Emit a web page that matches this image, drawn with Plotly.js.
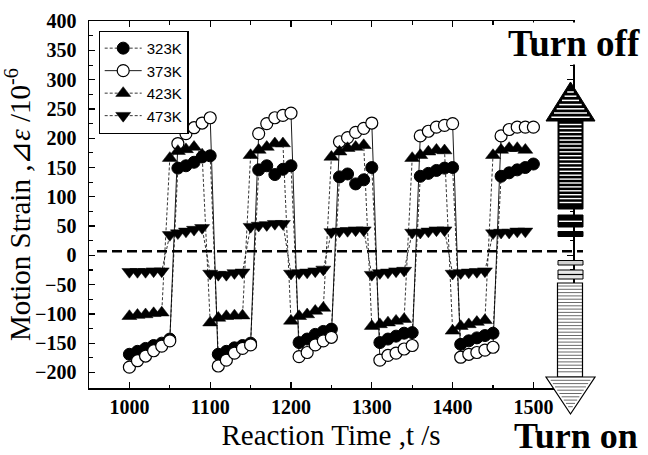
<!DOCTYPE html>
<html>
<head>
<meta charset="utf-8">
<script src="https://cdn.plot.ly/plotly-3.0.1.min.js"></script>
<style>
  html, body { margin: 0; padding: 0; background: #ffffff; }
  #chart { width: 648px; height: 455px; }
</style>
</head>
<body>
<div id="chart"></div>
<script>
// ---------------- data ----------------
const seriesNames = ["323K", "373K", "423K", "473K"];

const timeA = [1000,1010,1020,1030,1040,1050,1060,1070,1080,1090,1100,
  1110,1120,1130,1140,1150,1160,1170,1180,1190,1200,
  1210,1220,1230,1240,1250,1260,1270,1280,1290,1300,
  1310,1320,1330,1340,1350,1360,1370,1380,1390,1400,
  1410,1420,1430,1440,1450,1460,1470,1480,1490,1500];

const timeB = [1000,1010,1020,1030,1040,1050,1060,1070,1080,1090,
  1100,1110,1120,1130,1140,1150,1160,1170,1180,1190,
  1200,1210,1220,1230,1240,1250,1260,1270,1280,1290,
  1300,1310,1320,1330,1340,1350,1360,1370,1380,1390,
  1400,1410,1420,1430,1440,1450,1460,1470,1480,1490];

const strain323 = [-169,-164,-159,-154,-150,-143, 149,153,159,168,170,
  -169,-164,-158,-154,-150, 146,153,138,147,153,
  -149,-143,-135,-130,-126, 134,139,122,129,150,
  -149,-143,-138,-133,-132, 135,140,145,149,150,
  -152,-146,-141,-137,-133, 135,141,146,150,156];

const strain373 = [-191,-180,-172,-163,-155,-146, 191,208,218,226,235,
  -189,-179,-167,-159,-153, 208,225,235,239,243,
  -173,-166,-153,-146,-140, 194,201,210,217,226,
  -179,-171,-167,-160,-154, 204,212,219,222,225,
  -174,-169,-166,-162,-157, 204,215,219,219,219];

const strain423 = [-104,-102,-101,-99,-98, 166,178,181,185,172,
  -115,-107,-104,-103,-103, 171,180,185,191,191,
  -112,-104,-101,-95,-90, 168,177,183,185,188,
  -121,-118,-115,-112,-109, 166,171,177,180,179,
  -129,-121,-118,-114,-111, 171,180,183,183,180];

const strain473 = [-28,-28,-28,-27,-27, 35,38,41,44,47,
  -31,-33,-33,-30,-29, 49,51,52,54,54,
  -31,-30,-29,-27,-24, 40,41,42,43,43,
  -33,-30,-29,-27,-26, 39,39,41,43,43,
  -31,-30,-29,-28,-27, 38,39,39,41,41];

const baselineStrain = 7;   // horizontal dashed reference line
const xTitle = "Reaction Time ,t /s";
const yTitle = "Motion Strain ,⊿<i>ε</i> /10<sup>-6</sup>";
const labelOff = "Turn off";
const labelOn = "Turn on";

// ---------------- layout geometry ----------------
const W = 648, H = 455;
const ML = 89, MR = 75, MT = 21, MB = 67;
const L = ML, R = W - MR, T = MT, B = H - MB;
function X(px){ return (px - L) / (R - L); }
function Y(py){ return (B - py) / (B - T); }

const serif = "Liberation Serif, Times New Roman, serif";
const sans = "Liberation Sans, Arial, sans-serif";

const dashSmall = "3px,2px";
const traces = [
  { x: timeA, y: strain323, name: seriesNames[0], mode: "lines+markers",
    line: { color: "black", width: 0.8, dash: dashSmall },
    marker: { symbol: "circle", size: 12, color: "black", line: { color: "black", width: 1 } } },
  { x: timeA, y: strain373, name: seriesNames[1], mode: "lines+markers",
    line: { color: "black", width: 0.9 },
    marker: { symbol: "circle", size: 12, color: "white", line: { color: "black", width: 1.2 } } },
  { x: timeB, y: strain423, name: seriesNames[2], mode: "lines+markers",
    line: { color: "black", width: 0.8, dash: dashSmall },
    marker: { symbol: "triangle-up", size: 13, color: "black", line: { color: "black", width: 0.5 } } },
  { x: timeB, y: strain473, name: seriesNames[3], mode: "lines+markers",
    line: { color: "black", width: 0.8, dash: dashSmall },
    marker: { symbol: "triangle-down", size: 13, color: "black", line: { color: "black", width: 0.5 } } }
];
traces.forEach(t => { t.type = "scatter"; t.hoverinfo = "skip"; t.cliponaxis = true; });

// ---------------- arrow decoration (paper coords) ----------------
const shapes = [];
function rect(x0, y0, x1, y1, fill, lc, lw){
  shapes.push({ type: "rect", xref: "paper", yref: "paper", layer: "above",
    x0: X(x0), x1: X(x1), y0: Y(y0), y1: Y(y1),
    fillcolor: fill, line: { color: lc, width: lw } });
}
function hline(x0, x1, y, color, w){
  shapes.push({ type: "line", xref: "paper", yref: "paper", layer: "above",
    x0: X(x0), x1: X(x1), y0: Y(y), y1: Y(y), line: { color: color, width: w } });
}
function tri(ax, ay, bx, by, cx, cy, fill, lc, lw){
  shapes.push({ type: "path", xref: "paper", yref: "paper", layer: "above",
    path: `M${X(ax)},${Y(ay)} L${X(bx)},${Y(by)} L${X(cx)},${Y(cy)} Z`,
    fillcolor: fill, line: { color: lc, width: lw } });
}
const cx = 570.5, headHalf = 24.5;
const sx0 = 558, sx1 = 583;
// up arrow head
const upTip = 82, upBase = 121;
tri(cx, upTip, cx - headHalf, upBase, cx + headHalf, upBase, "black", "black", 1);
for (let y = 92; y <= 118; y += 4.2) {
  const hw = (y - upTip) / (upBase - upTip) * headHalf - 3;
  if (hw > 1) hline(cx - hw, cx + hw, y, "white", 1.5);
}
// up arrow shaft
rect(sx0, upBase, sx1, 209, "black", "black", 1);
for (let y = 124.5; y <= 206; y += 3.9) hline(sx0 + 1.5, sx1 - 1.5, y, "white", 1.4);
// small dark blocks
rect(sx0, 215, sx1, 227, "black", "black", 1);
hline(sx0 + 1, sx1 - 1, 221.3, "white", 1.4);
rect(sx0, 231.5, sx1, 236.5, "black", "black", 1);
// small light blocks
rect(sx0, 260.5, sx1, 265, "#d0d0d0", "black", 1);
rect(sx0, 270, sx1, 279, "#e8e8e8", "black", 1);
hline(sx0, sx1, 274.5, "black", 1.2);
// down arrow shaft
const dnBase = 377, dnTip = 414;
rect(sx0 - 0.5, 283, sx1 - 0.5, dnBase, "white", "black", 1.2);
for (let y = 286; y <= 375; y += 3.3) hline(sx0, sx1 - 1, y, "#444", 0.8);
// down arrow head
tri(cx - headHalf, dnBase, cx + headHalf, dnBase, cx, dnTip, "white", "black", 1.2);
for (let y = 380.3; y <= 410; y += 3.3) {
  const hw = (dnTip - y) / (dnTip - dnBase) * headHalf - 2.5;
  if (hw > 1) hline(cx - hw, cx + hw, y, "#444", 0.8);
}
// horizontal dashed reference line
shapes.push({ type: "line", xref: "paper", yref: "y", layer: "above",
  x0: X(97), x1: X(583), y0: baselineStrain, y1: baselineStrain,
  line: { color: "black", width: 2.6, dash: "10px,5px" } });

const annotations = [
  { text: labelOff, xref: "paper", yref: "paper", x: X(574), y: Y(43), xanchor: "center", yanchor: "middle",
    showarrow: false, bgcolor: "white", borderpad: 0,
    font: { family: serif, size: 37, weight: "bold", color: "black" } },
  { text: labelOn, xref: "paper", yref: "paper", x: X(576), y: Y(436), xanchor: "center", yanchor: "middle",
    showarrow: false, borderpad: 0,
    font: { family: serif, size: 36, weight: "bold", color: "black" } }
];

const axisCommon = {
  showgrid: false, zeroline: false, showline: true, mirror: "ticks",
  linecolor: "black", linewidth: 1.5,
  ticks: "inside", ticklen: 6, tickwidth: 1.3, tickcolor: "black",
  tickfont: { family: serif, size: 20, weight: "bold", color: "black" }
};

const layout = {
  width: W, height: H,
  margin: { l: ML, r: MR, t: MT, b: MB, pad: 0 },
  paper_bgcolor: "white", plot_bgcolor: "white",
  showlegend: true,
  legend: {
    x: X(98.5), y: Y(30.7), xanchor: "left", yanchor: "top",
    bgcolor: "white", bordercolor: "black", borderwidth: 1.2,
    font: { family: sans, size: 15, color: "black" },
    itemwidth: 37, tracegroupgap: 0
  },
  xaxis: Object.assign({}, axisCommon, {
    range: [950, 1549], tick0: 1000, dtick: 100,
    minor: { ticks: "inside", ticklen: 3.5, tickwidth: 1.1, tickcolor: "black", dtick: 50, tick0: 1000 },
    title: { text: xTitle, standoff: 8, font: { family: serif, size: 29, color: "black" } },
    automargin: false
  }),
  yaxis: Object.assign({}, axisCommon, {
    range: [-226.6, 400.3], tick0: 0, dtick: 50,
    ticklabelstandoff: 7,
    minor: { ticks: "inside", ticklen: 3.5, tickwidth: 1.1, tickcolor: "black", dtick: 25, tick0: 0 },
    title: { text: yTitle, standoff: 0, font: { family: serif, size: 29, color: "black" } },
    automargin: false
  }),
  shapes: shapes,
  annotations: annotations
};

Plotly.newPlot("chart", traces, layout, { displayModeBar: false, staticPlot: true });
</script>
</body>
</html>
